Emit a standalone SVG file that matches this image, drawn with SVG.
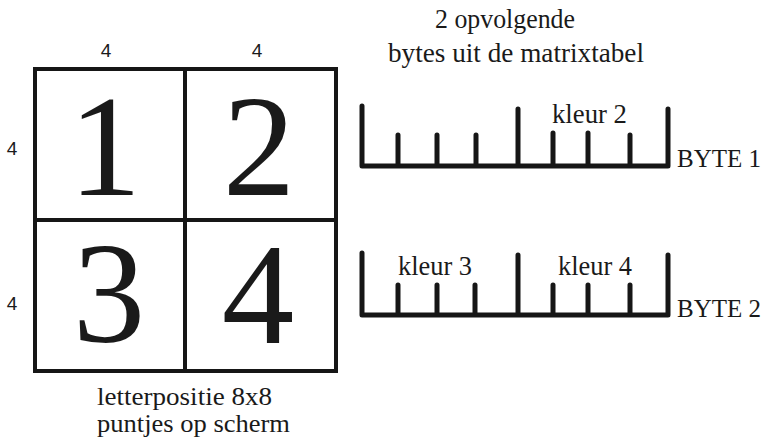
<svg xmlns="http://www.w3.org/2000/svg" width="766" height="438" viewBox="0 0 766 438">
<style>
.serif{font-family:"Liberation Serif","Times New Roman",serif;fill:#1a1a1a}
.sans{font-family:"Liberation Sans",Arial,sans-serif;fill:#1a1a1a;font-size:19px}
.big{font-size:145px;text-anchor:middle}
.lbl{font-size:27px}
.byte{font-size:25px}
.cap{font-size:25px}
.cell{fill:#fff;stroke:#161616;stroke-width:4}
.ruler{fill:none;stroke:#161616;stroke-width:5;stroke-linecap:round;stroke-linejoin:round}
</style>
<rect width="766" height="438" fill="#fff"/>
<g id="grid">
  <g id="cell1"><rect class="cell" x="35" y="69" width="150" height="151"/><text class="serif big" x="105" y="195">1</text></g>
  <g id="cell2"><rect class="cell" x="185" y="69" width="151" height="151"/><text class="serif big" x="259" y="195">2</text></g>
  <g id="cell3"><rect class="cell" x="35" y="220" width="150" height="151"/><text class="serif big" x="109" y="342">3</text></g>
  <g id="cell4"><rect class="cell" x="185" y="220" width="151" height="151"/><text class="serif big" x="258" y="343">4</text></g>
</g>
<g id="dims">
  <text class="sans" x="106" y="57" text-anchor="middle">4</text>
  <text class="sans" x="257" y="57" text-anchor="middle">4</text>
  <text class="sans" x="12" y="155" text-anchor="middle">4</text>
  <text class="sans" x="12" y="310" text-anchor="middle">4</text>
</g>
<g id="caption">
  <text class="serif cap" x="97" y="405" textLength="175" lengthAdjust="spacingAndGlyphs">letterpositie 8x8</text>
  <text class="serif cap" x="97" y="432" textLength="193" lengthAdjust="spacingAndGlyphs">puntjes op scherm</text>
</g>
<g id="title">
  <text class="serif lbl" x="435" y="28" textLength="140" lengthAdjust="spacingAndGlyphs">2 opvolgende</text>
  <text class="serif lbl" x="388" y="62" textLength="256" lengthAdjust="spacingAndGlyphs">bytes uit de matrixtabel</text>
</g>
<g id="byte1">
  <path class="ruler" d="M362,106 V166 H668 V109 M398,166 V135 M437,166 V135 M476,166 V135 M518,166 V109 M553,166 V133 M588,166 V133 M630,166 V135"/>
  <text class="serif lbl" x="552" y="123" textLength="75" lengthAdjust="spacingAndGlyphs">kleur 2</text>
  <text class="serif byte" x="677" y="167">BYTE 1</text>
</g>
<g id="byte2">
  <path class="ruler" d="M362,253 V315 H668 V255 M398,315 V285 M437,315 V285 M475,315 V285 M518,315 V255 M553,315 V285 M588,315 V285 M630,315 V285"/>
  <text class="serif lbl" x="398" y="275" textLength="74" lengthAdjust="spacingAndGlyphs">kleur 3</text>
  <text class="serif lbl" x="558" y="275" textLength="74" lengthAdjust="spacingAndGlyphs">kleur 4</text>
  <text class="serif byte" x="677" y="317">BYTE 2</text>
</g>
</svg>
